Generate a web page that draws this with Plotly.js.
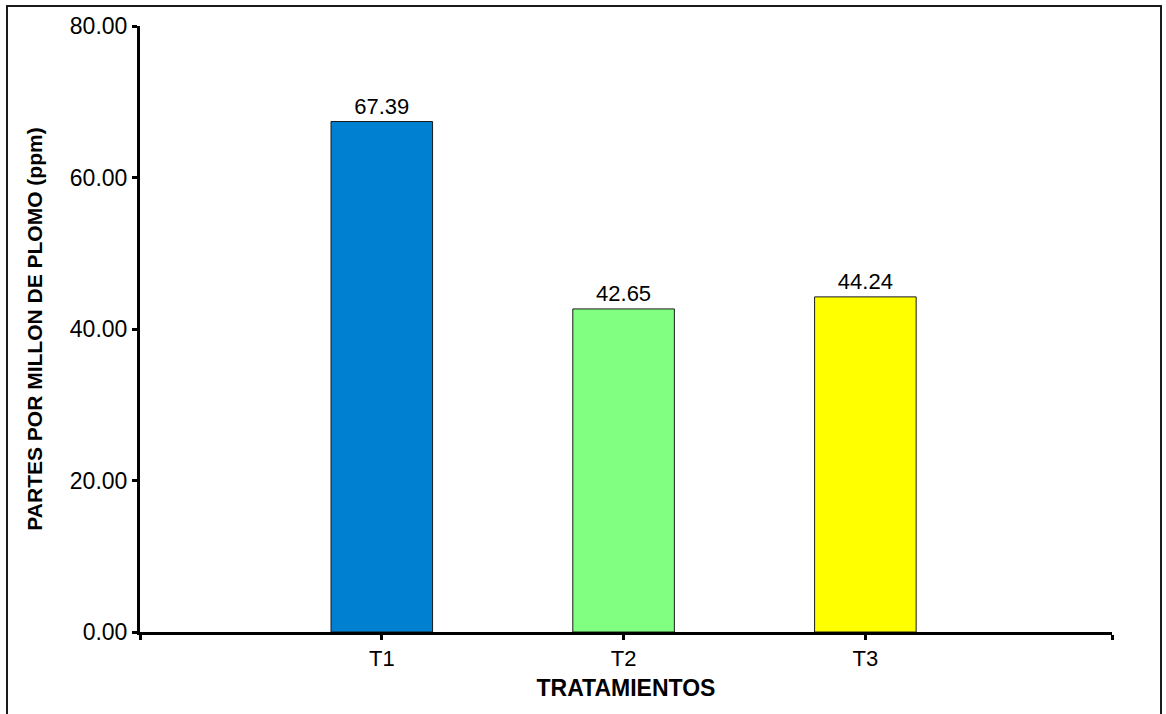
<!DOCTYPE html>
<html>
<head>
<meta charset="utf-8">
<script src="https://cdn.plot.ly/plotly-3.0.1.min.js"></script>
<style>
  html, body { margin: 0; padding: 0; background: #fff; }
  #chart { width: 1166px; height: 714px; }
</style>
</head>
<body>
<div id="chart"></div>
<script>
// Lead concentration by treatment
const categories = ['T1', 'T2', 'T3'];
const values = [67.39, 42.65, 44.24];
const barColors = ['#0080d0', '#80ff80', '#ffff00'];
const yTicks = [0, 20, 40, 60, 80];

const positions = categories.map((_, i) => i);
const FONT = 'Arial, "Liberation Sans", sans-serif';

const trace = {
  type: 'bar',
  x: positions,
  y: values,
  width: 0.42,
  marker: { color: barColors, line: { color: '#1a1a1a', width: 1 } },
  text: values.map(v => v.toFixed(2)),
  textposition: 'outside',
  textfont: { family: FONT, size: 22, color: '#000' },
  cliponaxis: false,
  hoverinfo: 'x+y'
};

const xLeft = -1, xRight = 3.02;

const layout = {
  width: 1166,
  height: 714,
  margin: { l: 140, r: 54, t: 26, b: 82 },
  paper_bgcolor: '#fff',
  plot_bgcolor: '#fff',
  showlegend: false,
  font: { family: FONT, color: '#000' },
  xaxis: {
    range: [xLeft, xRight],
    tickmode: 'array',
    tickvals: [xLeft].concat(positions, [xRight]),
    ticktext: [''].concat(categories, ['']),
    ticks: 'outside',
    ticklen: 5,
    tickwidth: 3,
    tickcolor: '#000',
    showline: true,
    linecolor: '#000',
    linewidth: 3,
    showgrid: false,
    zeroline: false,
    tickfont: { family: FONT, size: 22, color: '#000' },
    title: { text: '<b>TRATAMIENTOS</b>', font: { family: FONT, size: 23, color: '#000' }, standoff: 10 }
  },
  yaxis: {
    range: [0, 80],
    tickmode: 'array',
    tickvals: yTicks,
    ticktext: yTicks.map(v => v.toFixed(2)),
    ticks: 'outside',
    ticklen: 5,
    tickwidth: 3,
    tickcolor: '#000',
    showline: true,
    linecolor: '#000',
    linewidth: 3,
    showgrid: false,
    zeroline: false,
    tickfont: { family: FONT, size: 23, color: '#000' },
    title: { text: '<b>PARTES POR MILLON DE PLOMO (ppm)</b>', font: { family: FONT, size: 21, color: '#000' }, standoff: 22 }
  },
  shapes: [
    // outer frame around the figure
    {
      type: 'rect', xref: 'paper', yref: 'paper',
      x0: (7 - 140) / 972, x1: (1161 - 140) / 972,
      y0: (632 - 730) / 606, y1: (632 - 6) / 606,
      line: { color: '#1a1a1a', width: 2 },
      fillcolor: 'rgba(0,0,0,0)'
    }
  ]
};

Plotly.newPlot('chart', [trace], layout, { displayModeBar: false, staticPlot: true });
</script>
</body>
</html>
